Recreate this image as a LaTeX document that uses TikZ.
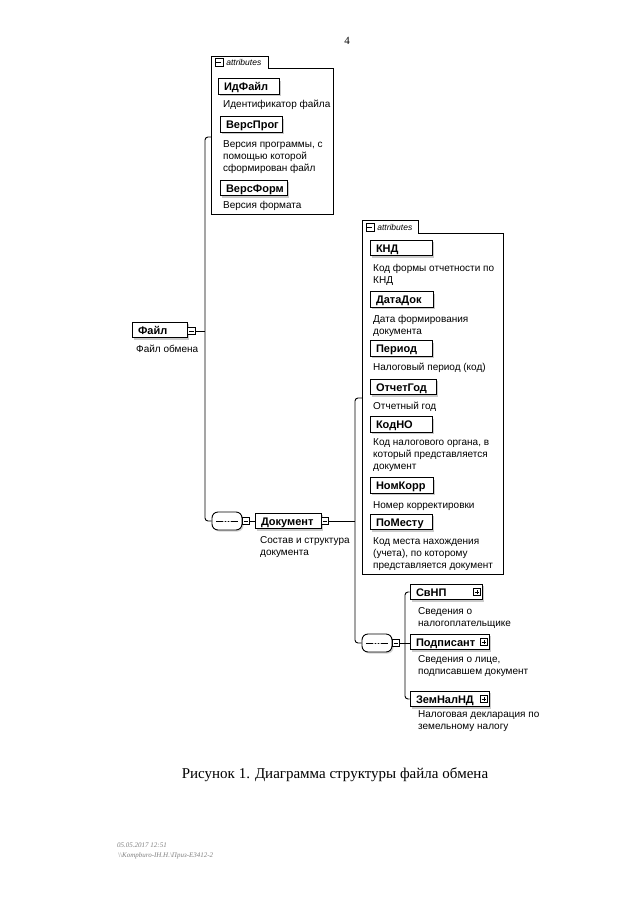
\documentclass[tikz,border=0pt]{standalone}
\usepackage{fontspec}
\setmainfont{Liberation Serif}
\newfontfamily\arialf{Liberation Sans}
\usetikzlibrary{shadows}
\begin{document}
\begin{tikzpicture}[x=1pt,y=-1pt,
 conn/.style={line width=0.9pt},
 elbox/.style={draw, fill=white, line width=1pt, minimum height=15.5pt, inner ysep=0pt, inner xsep=6pt,
   text height=8pt, text depth=0pt,
   align=left, font=\arialf\bfseries\fontsize{11}{12}\selectfont,
   drop shadow={shadow xshift=1.8pt, shadow yshift=-1.8pt, fill=black!40}},
 desc/.style={anchor=north west, inner sep=0pt, align=left, font=\arialf\fontsize{10}{12}\selectfont},
 btnbox/.style={draw, fill=white, line width=0.6pt, minimum size=7.5pt, inner sep=0pt},
 minusbtn/.style={btnbox, path picture={\draw[line width=0.6pt] ([xshift=1.4pt]path picture bounding box.west) -- ([xshift=-1.4pt]path picture bounding box.east);}},
 plusbtn/.style={btnbox, path picture={\draw[line width=0.6pt] ([xshift=1.4pt]path picture bounding box.west) -- ([xshift=-1.4pt]path picture bounding box.east) ([yshift=1.4pt]path picture bounding box.south) -- ([yshift=-1.4pt]path picture bounding box.north);}},
 seqbox/.style={draw, fill=white, line width=0.9pt, rounded corners=6pt, minimum height=18pt, inner sep=0pt,
   drop shadow={shadow xshift=1.5pt, shadow yshift=-1.5pt, fill=black!35},
   path picture={\draw[line width=0.8pt] ([xshift=4pt]path picture bounding box.west) -- ([xshift=-4pt]path picture bounding box.east);
     \foreach \dx in {-3,0,3} \fill ([xshift=\dx pt]path picture bounding box.center) circle (1.1pt);}},
 attrarea/.style={inner sep=0pt},
 tabnode/.style={inner sep=0pt},
 tabtext/.style={anchor=west, inner sep=0pt, font=\arialf\itshape\fontsize{8.5}{10}\selectfont},
 outline/.style={line width=0.8pt}
]
\useasboundingbox (0,0) rectangle (640,905);
\fill[white] (0,0) rectangle (640,905);

% page number
\node[font=\fontsize{11}{13}\selectfont] (pn) at (347,41) {4};

% ---------- attributes of Файл ----------
\node[attrarea, minimum width=121pt, minimum height=145pt] (a1) at (272.5,141.5) {};
\node[tabnode, anchor=south west, minimum width=56pt, minimum height=12.5pt] (t1) at (a1.north west) {};
\draw[outline] (a1.north east) -- (t1.south east) -- (t1.north east) -- (t1.north west) -- (a1.south west) -- (a1.south east) -- cycle;
\node[minusbtn, minimum size=8pt] (t1i) at ([xshift=7pt]t1.west) {};
\node[tabtext] (t1t) at ([xshift=3pt]t1i.east) {attributes};

\node[elbox, text width=49pt] (idf) at (248.5,86.5) {ИдФайл};
\node[desc] (didf) at (223,100) {Идентификатор файла};
\node[elbox, text width=50pt] (vprog) at (251,124.5) {ВерсПрог};
\node[desc] (dvprog) at (223,140) {Версия программы, с\\помощью которой\\сформирован файл};
\node[elbox, text width=55pt] (vform) at (253.5,188) {ВерсФорм};
\node[desc] (dvform) at (223,201) {Версия формата};

% ---------- Файл ----------
\node[elbox, text width=43pt] (fajl) at (159.5,330) {Файл};
\node[minusbtn] (fb) at (191.5,331) {};
\node[desc] (dfajl) at (136,345) {Файл обмена};

% sequence 1
\node[seqbox, minimum width=30pt] (s1) at (227,521) {};
\node[minusbtn] (sb1) at (246,521) {};

% Документ
\node[elbox, text width=54pt] (dok) at (288,521) {Документ};
\node[minusbtn] (db) at (325,521) {};
\node[desc] (ddok) at (260,536) {Состав и структура\\документа};

% ---------- attributes of Документ ----------
\node[attrarea, minimum width=140pt, minimum height=340pt] (a2) at (433,404) {};
\node[tabnode, anchor=south west, minimum width=55pt, minimum height=13pt] (t2) at (a2.north west) {};
\draw[outline] (a2.north east) -- (t2.south east) -- (t2.north east) -- (t2.north west) -- (a2.south west) -- (a2.south east) -- cycle;
\node[minusbtn, minimum size=8pt] (t2i) at ([xshift=7pt]t2.west) {};
\node[tabtext] (t2t) at ([xshift=3pt]t2i.east) {attributes};

\node[elbox, text width=50pt] (knd) at (401,248) {КНД};
\node[desc] (dknd) at (373,264) {Код формы отчетности по\\КНД};
\node[elbox, text width=51pt] (datadok) at (401.5,299.5) {ДатаДок};
\node[desc] (ddatadok) at (373,315) {Дата формирования\\документа};
\node[elbox, text width=50pt] (period) at (401,348.5) {Период};
\node[desc] (dperiod) at (373,363) {Налоговый период (код)};
\node[elbox, text width=54pt] (otchgod) at (403,387) {ОтчетГод};
\node[desc] (dotchgod) at (373,402) {Отчетный год};
\node[elbox, text width=50pt] (kodno) at (401,424.5) {КодНО};
\node[desc] (dkodno) at (373,438) {Код налогового органа, в\\который представляется\\документ};
\node[elbox, text width=51pt] (nomkorr) at (401.5,485.5) {НомКорр};
\node[desc] (dnomkorr) at (373,501) {Номер корректировки};
\node[elbox, text width=50pt] (pomestu) at (401,522) {ПоМесту};
\node[desc] (dpomestu) at (373,537) {Код места нахождения\\(учета), по которому\\представляется документ};

% sequence 2
\node[seqbox, minimum width=30pt] (s2) at (377,643) {};
\node[minusbtn] (sb2) at (396,643) {};

\node[elbox, text width=60pt] (svnp) at (446,592) {СвНП};
\node[plusbtn] (svnpb) at (477,592) {};
\node[desc] (dsvnp) at (418,607) {Сведения о\\налогоплательщике};
\node[elbox, text width=67pt] (podp) at (449.5,642) {Подписант};
\node[plusbtn] (podpb) at (484,642) {};
\node[desc] (dpodp) at (418,655) {Сведения о лице,\\подписавшем документ};
\node[elbox, text width=67pt] (zem) at (449.5,699) {ЗемНалНД};
\node[plusbtn] (zemb) at (484,699) {};
\node[desc] (dzem) at (418,710) {Налоговая декларация по\\земельному налогу};

% ---------- connectors ----------
\coordinate (j1a) at (205,137);
\coordinate (j1b) at (205,521);
\draw[conn] (fb.east) -- (fb.east -| j1a);
\draw[conn, rounded corners=3pt] (a1.west |- j1a) -- (j1a) -- (j1b) -- (s1.west);
\draw[conn] (sb1.east) -- (dok.west);
\coordinate (j2a) at (355,398);
\coordinate (j2b) at (355,643);
\draw[conn] (db.east) -- (db.east -| j2a);
\draw[conn, rounded corners=3pt] (a2.west |- j2a) -- (j2a) -- (j2b) -- (s2.west);
\coordinate (j3a) at (405,592);
\coordinate (j3b) at (405,699);
\draw[conn, rounded corners=3pt] (svnp.west) -- (j3a) -- (j3b) -- (zem.west);
\draw[conn] (sb2.east) -- (sb2.east -| podp.west);

% caption
\node[font=\fontsize{15}{18}\selectfont] (cap) at (335,775) {Рисунок 1. Диаграмма структуры файла обмена};

% footer
\node[anchor=west, inner sep=0pt, font=\itshape\fontsize{7}{8}\selectfont, text=black!50] (f1) at (117,845) {05.05.2017 12:51};
\node[anchor=west, inner sep=0pt, font=\itshape\fontsize{7}{8}\selectfont, text=black!50] (f2) at (118,856) {\textbackslash\textbackslash Kompburo-IH.H.\textbackslash Приз-E3412-2};
\end{tikzpicture}
\end{document}
